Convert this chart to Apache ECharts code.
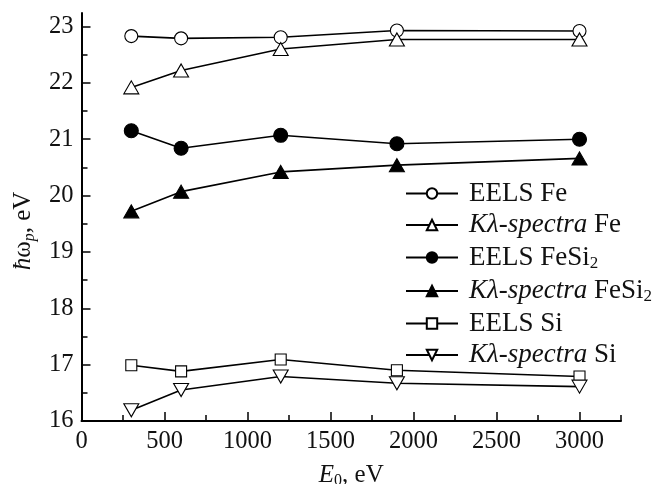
<!DOCTYPE html>
<html><head><meta charset="utf-8">
<script src="https://cdn.jsdelivr.net/npm/echarts@6/dist/echarts.min.js"></script>
<style>html,body{margin:0;padding:0;background:#fff}#c{width:658px;height:484px}</style>
</head><body><div id="c"></div>
<script>
const energies = [300, 600, 1200, 1900, 3000];
const eelsFe = [22.83, 22.79, 22.81, 22.93, 22.92];
const klFe = [21.92, 22.22, 22.60, 22.77, 22.77];
const eelsFeSi2 = [21.15, 20.84, 21.07, 20.92, 21.00];
const klFeSi2 = [19.72, 20.07, 20.42, 20.54, 20.66];
const eelsSi = [16.99, 16.88, 17.09, 16.90, 16.79];
const klSi = [16.19, 16.55, 16.79, 16.67, 16.61];
const xLabels = [0, 500, 1000, 1500, 2000, 2500, 3000];
const yLabels = [16, 17, 18, 19, 20, 21, 22, 23];

const FONT = 'Liberation Serif';
const chart = echarts.init(document.getElementById('c'));
const pair = arr => energies.map((x, i) => [x, arr[i]]);
const axisLineStyle = {color: '#000', width: 2};
const tickStyle = {color: '#000', width: 1.5};

function mk(name, data, symbol, size, filled, rotate) {
  return {
    name, type: 'line', data: pair(data), xAxisIndex: 0, yAxisIndex: 0,
    symbol, symbolSize: size, symbolRotate: rotate || 0, showAllSymbol: true,
    lineStyle: {color: '#000', width: 1.6},
    itemStyle: {color: filled ? '#000' : '#fff', borderColor: '#000', borderWidth: 1.1},
    emphasis: {disabled: true}, animation: false, z: 3
  };
}

const rich = {
  i: {fontFamily: FONT, fontStyle: 'italic', fontSize: 27, lineHeight: 27, color: '#111'},
  n: {fontFamily: FONT, fontSize: 27, lineHeight: 27, color: '#111'},
  s: {fontFamily: FONT, fontSize: 17, lineHeight: 14, color: '#111', padding: [12, 0, 0, 0]}
};
const richName = {
  i: {fontFamily: FONT, fontStyle: 'italic', fontSize: 25, color: '#111'},
  n: {fontFamily: FONT, fontSize: 25, color: '#111'},
  s: {fontFamily: FONT, fontSize: 16, color: '#111', padding: [12, 0, 0, 0]},
  sp: {fontFamily: FONT, fontStyle: 'italic', fontSize: 16, color: '#111', padding: [12, 0, 0, 0]}
};

const hiddenAxis = {show: false};
const gb = {containLabel: false, outerBoundsMode: 'none'};

chart.setOption({
  animation: false,
  backgroundColor: '#fff',
  grid: [
    Object.assign({left: 81.5, right: 37, top: 13, bottom: 63}, gb),
    Object.assign({left: 81.5, right: 78.5, top: 26.5, bottom: 63}, gb),
    Object.assign({left: 81.5, right: 37, top: 26.5, bottom: 63}, gb)
  ],
  xAxis: [{
    type: 'value', gridIndex: 0, min: 0, max: 3250, interval: 250,
    axisLine: {show: true, lineStyle: axisLineStyle, onZero: false},
    axisTick: {show: true, inside: true, length: 6, lineStyle: tickStyle},
    axisLabel: {customValues: xLabels, formatter: v => String(v), fontFamily: FONT, fontSize: 24.5, color: '#111', margin: 8},
    splitLine: {show: false},
    name: '{i|E}{s|0}{n|, eV}', nameLocation: 'middle', nameGap: 40,
    nameTextStyle: {rich: richName}
  }, {
    type: 'value', gridIndex: 1, min: 0, max: 3000, interval: 500,
    axisLine: {show: false},
    axisTick: {show: true, inside: true, length: 9, lineStyle: tickStyle},
    axisLabel: {show: false}, splitLine: {show: false}
  }, Object.assign({type: 'value', gridIndex: 2, min: 0, max: 3250}, hiddenAxis)],
  yAxis: [{
    type: 'value', gridIndex: 0, min: 16, max: 23.24, interval: 0.5,
    axisLine: {show: true, lineStyle: axisLineStyle, onZero: false},
    axisTick: {show: false},
    axisLabel: {customValues: yLabels, formatter: v => String(v), fontFamily: FONT, fontSize: 24.5, color: '#111', margin: 8},
    splitLine: {show: false},
    name: '{i|ħ}{n|ω}{sp|p}{n|, eV}', nameLocation: 'middle', nameGap: 44, nameRotate: 90,
    nameTextStyle: {rich: richName, padding: [0, 28, 0, 0]}
  }, {
    type: 'value', gridIndex: 1, min: 16, max: 23, interval: 1,
    axisLine: {show: false},
    axisTick: {show: true, inside: true, length: 9, lineStyle: tickStyle},
    axisLabel: {show: false}, splitLine: {show: false}
  }, {
    type: 'value', gridIndex: 2, min: 16, max: 23, interval: 0.5,
    axisLine: {show: false},
    axisTick: {show: true, inside: true, length: 6, lineStyle: tickStyle},
    axisLabel: {show: false}, splitLine: {show: false}
  }],
  legend: {
    orient: 'vertical', left: 400, top: 175, itemGap: 4.5, itemWidth: 52, itemHeight: 13,
    textStyle: {fontFamily: FONT, fontSize: 27, lineHeight: 27, color: '#111', rich, padding: [0, 0, 0, 6]},
    formatter: function (name) {
      const m = {
        'EELS Fe': '{n|EELS Fe}',
        'Kλ-spectra Fe': '{i|Kλ-spectra} {n|Fe}',
        'EELS FeSi2': '{n|EELS FeSi}{s|2}',
        'Kλ-spectra FeSi2': '{i|Kλ-spectra} {n|FeSi}{s|2}',
        'EELS Si': '{n|EELS Si}',
        'Kλ-spectra Si': '{i|Kλ-spectra} {n|Si}'
      };
      return m[name];
    },
    data: ['EELS Fe', 'Kλ-spectra Fe', 'EELS FeSi2', 'Kλ-spectra FeSi2', 'EELS Si', 'Kλ-spectra Si']
  },
  series: [
    mk('EELS Fe', eelsFe, 'circle', 13, false),
    mk('Kλ-spectra Fe', klFe, 'triangle', [15, 13], false),
    mk('EELS FeSi2', eelsFeSi2, 'circle', 14, true),
    mk('Kλ-spectra FeSi2', klFeSi2, 'triangle', [15, 13], true),
    mk('EELS Si', eelsSi, 'rect', 11, false),
    mk('Kλ-spectra Si', klSi, 'triangle', [15, 13], false, 180)
  ]
});
</script></body></html>
